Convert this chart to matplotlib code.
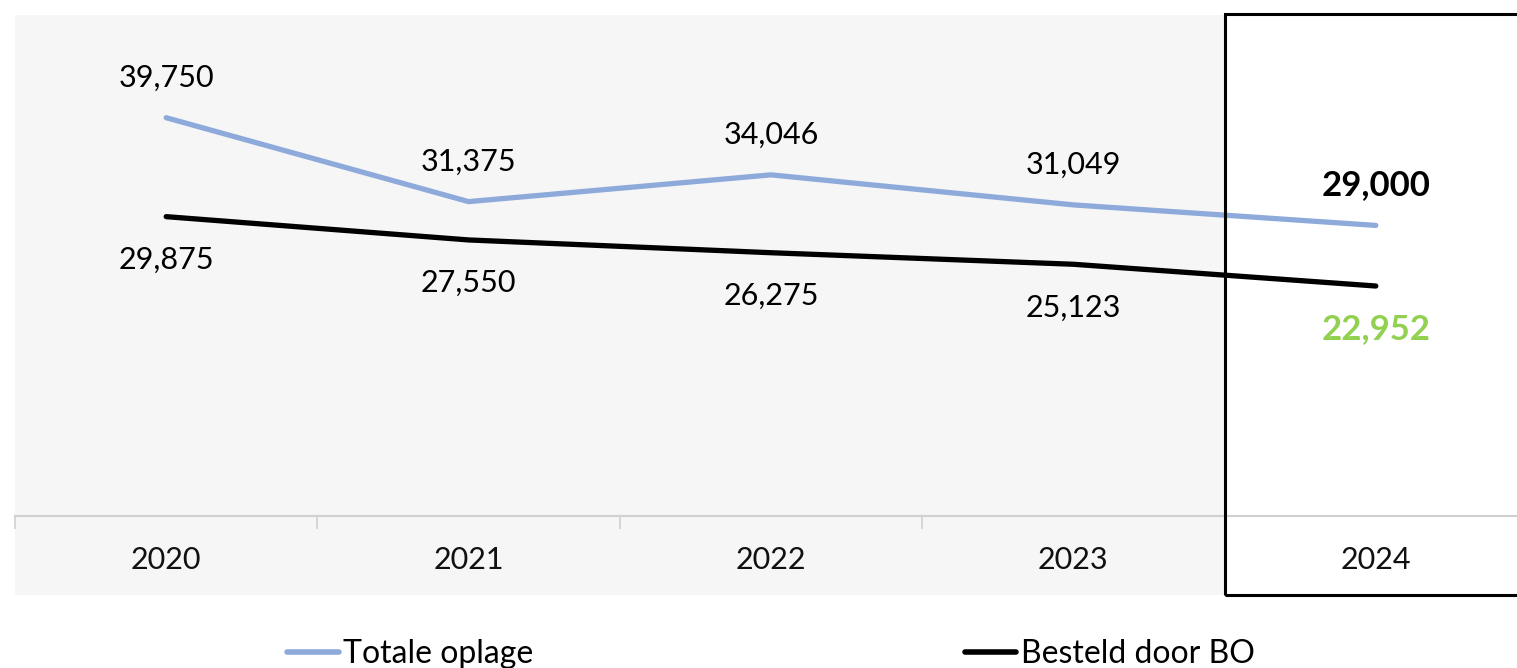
import matplotlib
matplotlib.use("Agg")
import matplotlib.pyplot as plt
from matplotlib.patches import Rectangle
from matplotlib.lines import Line2D

years = ["2020", "2021", "2022", "2023", "2024"]
totale = [39750, 31375, 34046, 31049, 29000]
besteld = [29875, 27550, 26275, 25123, 22952]

BLUE = "#8eaadb"
GREEN = "#92d050"
BG = "#f6f6f6"
FONT = ["Lato", "DejaVu Sans"]
plt.rcParams['font.family'] = FONT

W, H = 1517, 668
fig = plt.figure(figsize=(W / 100, H / 100), dpi=100)

def fx(px):
    return px / W

def fy(py):
    return 1 - py / H

# gray background region (plot + category area) up to 2024 column
fig.patches.append(Rectangle((fx(15), fy(595)), fx(1224) - fx(15), fy(15) - fy(595),
                             transform=fig.transFigure, facecolor=BG, edgecolor='none', zorder=-5))

left, right = 15, 1527
ax = fig.add_axes([fx(left), fy(516), fx(right) - fx(left), fy(15) - fy(516)])
ax.set_facecolor('none')
ax.set_xlim(-0.5, 4.5)
ax.set_ylim(0, 50000)
for s in ['top', 'right', 'left']:
    ax.spines[s].set_visible(False)
ax.spines['bottom'].set_color('#d0d0d0')
ax.spines['bottom'].set_linewidth(1.5)
ax.set_yticks([])
x = list(range(len(years)))
ax.set_xticks([i - 0.5 for i in range(len(years) + 1)])
ax.set_xticklabels([])
ax.tick_params(axis='x', length=9, color='#d0d0d0', width=1.2)
for i, y in enumerate(years):
    ax.annotate(y, (i, 0), xycoords=('data', 'axes fraction'), xytext=(0, -32),
                textcoords='offset points', ha='center', va='center', fontsize=22, color='#111111')

ax.plot(x, totale, color=BLUE, lw=3.8, solid_capstyle='round', solid_joinstyle='round', zorder=3)
ax.plot(x, besteld, color='black', lw=3.8, solid_capstyle='round', solid_joinstyle='round', zorder=3)

for i in range(len(years)):
    last = i == len(years) - 1
    ax.annotate(f"{totale[i]:,}", (x[i], totale[i]), xytext=(0, 29), textcoords='offset points',
                ha='center', va='center', fontsize=25 if last else 22,
                fontweight='bold' if last else 'normal', color='black')
    ax.annotate(f"{besteld[i]:,}", (x[i], besteld[i]), xytext=(0, -31), textcoords='offset points',
                ha='center', va='center', fontsize=25 if last else 22,
                fontweight='bold' if last else 'normal', color=GREEN if last else 'black')

# box around 2024
fig.patches.append(Rectangle((fx(1225), fy(595)), fx(1540) - fx(1225), fy(14) - fy(595),
                             transform=fig.transFigure, facecolor='none', edgecolor='black',
                             linewidth=2.2, zorder=5))

handles = [Line2D([0], [0], color=BLUE, lw=4, solid_capstyle='round'),
           Line2D([0], [0], color='black', lw=4, solid_capstyle='round')]
fig.legend(handles, ["Totale oplage", "Besteld door BO"], ncol=2, frameon=False,
           loc='center', bbox_to_anchor=(fx(771), fy(654)), fontsize=23,
           handlelength=1.6, handletextpad=0.15, columnspacing=13.5)

fig.savefig("out.png", dpi=100)
